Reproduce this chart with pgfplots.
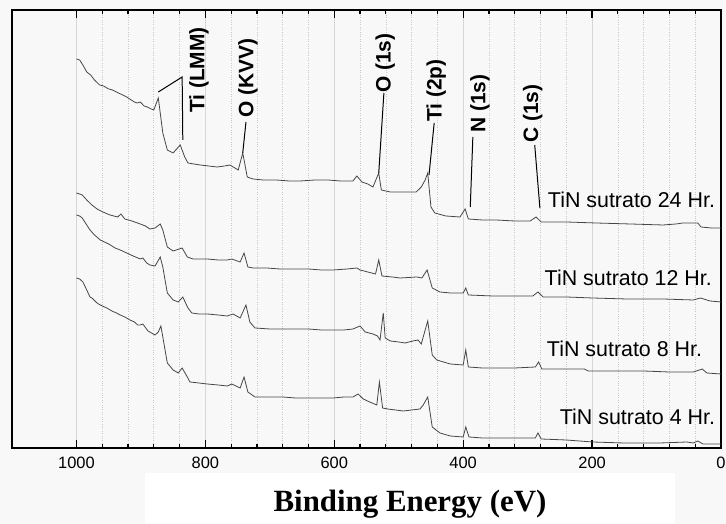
\documentclass[border=0pt]{standalone}
\usepackage{pgfplots}
\pgfplotsset{compat=1.18}
\usetikzlibrary{backgrounds,calc}
\usepackage{fontspec}
\setmainfont{Liberation Sans}
\newfontfamily\serifbf{Liberation Serif}

\definecolor{bgpage}{RGB}{248,248,248}
\definecolor{spec}{RGB}{70,70,70}
\definecolor{majgrid}{RGB}{215,215,215}
\definecolor{mingrid}{RGB}{200,200,200}

\begin{document}
\begin{tikzpicture}[x=1bp,y=1bp]
\begin{axis}[
    scale only axis, width=709bp, height=438bp,
    xmin=0, xmax=1100, ymin=0, ymax=438,
    x dir=reverse,
    xtick={0,200,...,1000}, minor x tick num=4,
    ytick=\empty,
    xmajorgrids, xminorgrids,
    major grid style={majgrid, line width=0.8pt},
    minor grid style={mingrid, dotted, line width=0.6pt},
    tick align=inside, xtick pos=both,
    major tick length=8bp, minor tick length=4bp,
    every tick/.style={black, line width=1.2pt},
    axis line style={line width=1.6pt},
    tick label style={font=\fontsize{16.5}{16.5}\selectfont},
    xticklabel style={yshift=-6bp},
    /pgf/number format/assume math mode=true,
    /pgf/number format/1000 sep={},
    clip=false,
    cycle list={{spec, line width=0.8pt}},
]
% TiN sutrato 24 Hr.
\addplot[spec, line width=0.8pt] coordinates {
(1000,389) (995,388) (990,383) (984,376) (978,373) (972,368) (964,363) (958,362)
(950,359) (944,358) (935,355) (928,353) (922,351) (915,348) (910,346) (906,345)
(901,346) (895,342) (890,341) (884,339) (880,338)
(873,350) (866,315) (859,298) (850,295) (839,303) (832,291) (827,285) (818,284)
(808,283) (795,282) (782,281) (770,282) (762,283) (749,278) (742,295) (735,271)
(726,269) (710,268) (690,268) (670,267) (653,267) (630,268) (610,268) (590,267)
(571,267) (565,272) (557,266) (548,264) (540,261) (531,275) (527,258) (513,256)
(490,256) (473,256) (465,261) (459,268) (455,275) (450,241) (444,235) (427,232)
(405,231) (397,239) (392,229) (370,228) (349,228) (320,227) (296,227) (287,231)
(279,226) (240,226) (194,225) (140,224) (90,223) (70,224) (59,225) (36,225)
(31,221) (15,220) (0,220)};
% TiN sutrato 12 Hr.
\addplot[spec, line width=0.8pt] coordinates {
(1000,255) (995,254) (991,253) (984,248) (976,243) (968,239) (959,236) (948,233)
(936,231) (931,234) (925,229) (914,227) (901,224) (893,222) (886,219) (878,220)
(870,224) (866,218) (859,201) (850,197) (836,200) (828,191) (819,189) (808,189)
(797,189) (780,188) (766,188) (759,189) (746,186) (740,195) (734,181) (726,180)
(705,180) (684,179) (660,179) (640,179) (620,178) (602,178) (580,179) (565,180)
(560,178) (548,176) (536,174) (531,188) (526,172) (510,171) (498,170) (472,171)
(464,170) (456,178) (448,160) (436,156) (420,155) (400,155) (396,160) (392,153)
(354,152) (320,152) (292,152) (284,156) (276,151) (240,151) (199,150) (146,149)
(90,149) (43,148) (32,150) (17,147) (0,146)};
% TiN sutrato 8 Hr.
\addplot[spec, line width=0.8pt] coordinates {
(1000,233) (995,232) (991,230) (985,224) (979,218) (972,213) (963,208) (950,204)
(940,200) (932,198) (922,195) (912,192) (901,189) (897,190) (891,185) (886,183)
(878,182) (870,191) (866,181) (859,155) (850,148) (842,146) (835,151) (827,140)
(821,135) (810,134) (797,134) (780,133) (766,132) (757,134) (746,130) (737,143)
(731,126) (723,120) (700,119) (680,119) (660,119) (640,119) (620,118) (602,118)
(585,118) (571,119) (560,122) (552,116) (540,114) (533,112) (529,108) (524,135)
(521,110) (513,107) (500,106) (490,105) (478,107) (470,108) (465,104) (462,111)
(455,127) (448,93) (441,88) (420,84) (400,83) (396,98) (392,81) (370,80) (354,80)
(320,80) (288,81) (283,86) (278,79) (240,79) (212,79) (206,77) (160,77) (120,77)
(80,76) (43,76) (29,79) (22,75) (0,74)};
% TiN sutrato 4 Hr.
\addplot[spec, line width=0.8pt] coordinates {
(1000,170) (995,169) (990,166) (984,158) (979,151) (976,150) (968,145) (963,143)
(953,140) (945,137) (938,135) (932,133) (925,131) (917,128) (910,126) (905,123)
(901,123) (897,124) (889,117) (878,113) (873,116) (869,122) (866,111) (859,85)
(850,78) (842,75) (836,80) (828,71) (824,66) (810,65) (797,64) (780,63) (766,62)
(759,64) (746,60) (740,71) (734,56) (723,51) (700,51) (680,51) (660,50) (640,50)
(620,50) (602,50) (585,51) (571,51) (563,54) (555,49) (545,46) (534,43) (530,66)
(525,40) (517,39) (505,38) (493,37) (480,38) (467,39) (462,43) (455,51) (448,21)
(436,15) (420,12) (400,11) (396,21) (391,11) (370,10) (354,10) (320,10) (288,10)
(284,15) (279,9) (240,8) (199,6) (150,5) (95,5) (53,6) (43,5) (36,7) (28,4) (0,4)};

% peak labels
\draw[black, line width=1pt] (873,356) -- (836,371) -- (835,308);
\draw[black, line width=1pt] (737,326) -- (742,295);
\draw[black, line width=1pt] (523,355) -- (531,275);
\draw[black, line width=1pt] (445,325) -- (453,273);
\draw[black, line width=1pt] (385,311) -- (389,241);
\draw[black, line width=1pt] (289,303) -- (281,240);
\begin{scope}[every node/.style={rotate=90, anchor=west, inner sep=0pt,
    font=\fontsize{21}{21}\selectfont\bfseries}]
\node at (810,335) {Ti (LMM)};
\node at (734,330) {O (KVV)};
\node at (521,355) {O (1s)};
\node at (442,326) {Ti (2p)};
\node at (374,315) {N (1s)};
\node at (292,305) {C (1s)};
\end{scope}
\begin{scope}[every node/.style={anchor=east, inner sep=0pt,
    font=\fontsize{21.5}{21.5}\selectfont}]
\node at (9,248) {TiN sutrato 24 Hr.};
\node at (14,170) {TiN sutrato 12 Hr.};
\node at (29,99) {TiN sutrato 8 Hr.};
\node at (9,31) {TiN sutrato 4 Hr.};
\end{scope}
\coordinate (LL) at (axis cs:1100,0);
\end{axis}

\begin{scope}[on background layer]
\fill[bgpage] ($(LL)+(-12,-76)$) rectangle +(726,524);
\fill[white] ($(LL)+(133,-76)$) rectangle +(530,51);
\end{scope}
\node[anchor=base, inner sep=0pt, font=\serifbf\bfseries\fontsize{31}{31}\selectfont]
  at ($(LL)+(398,-64)$) {Binding Energy (eV)};
\pgfresetboundingbox
\path ($(LL)+(-12,-76)$) rectangle +(726,524);
\end{tikzpicture}
\end{document}
